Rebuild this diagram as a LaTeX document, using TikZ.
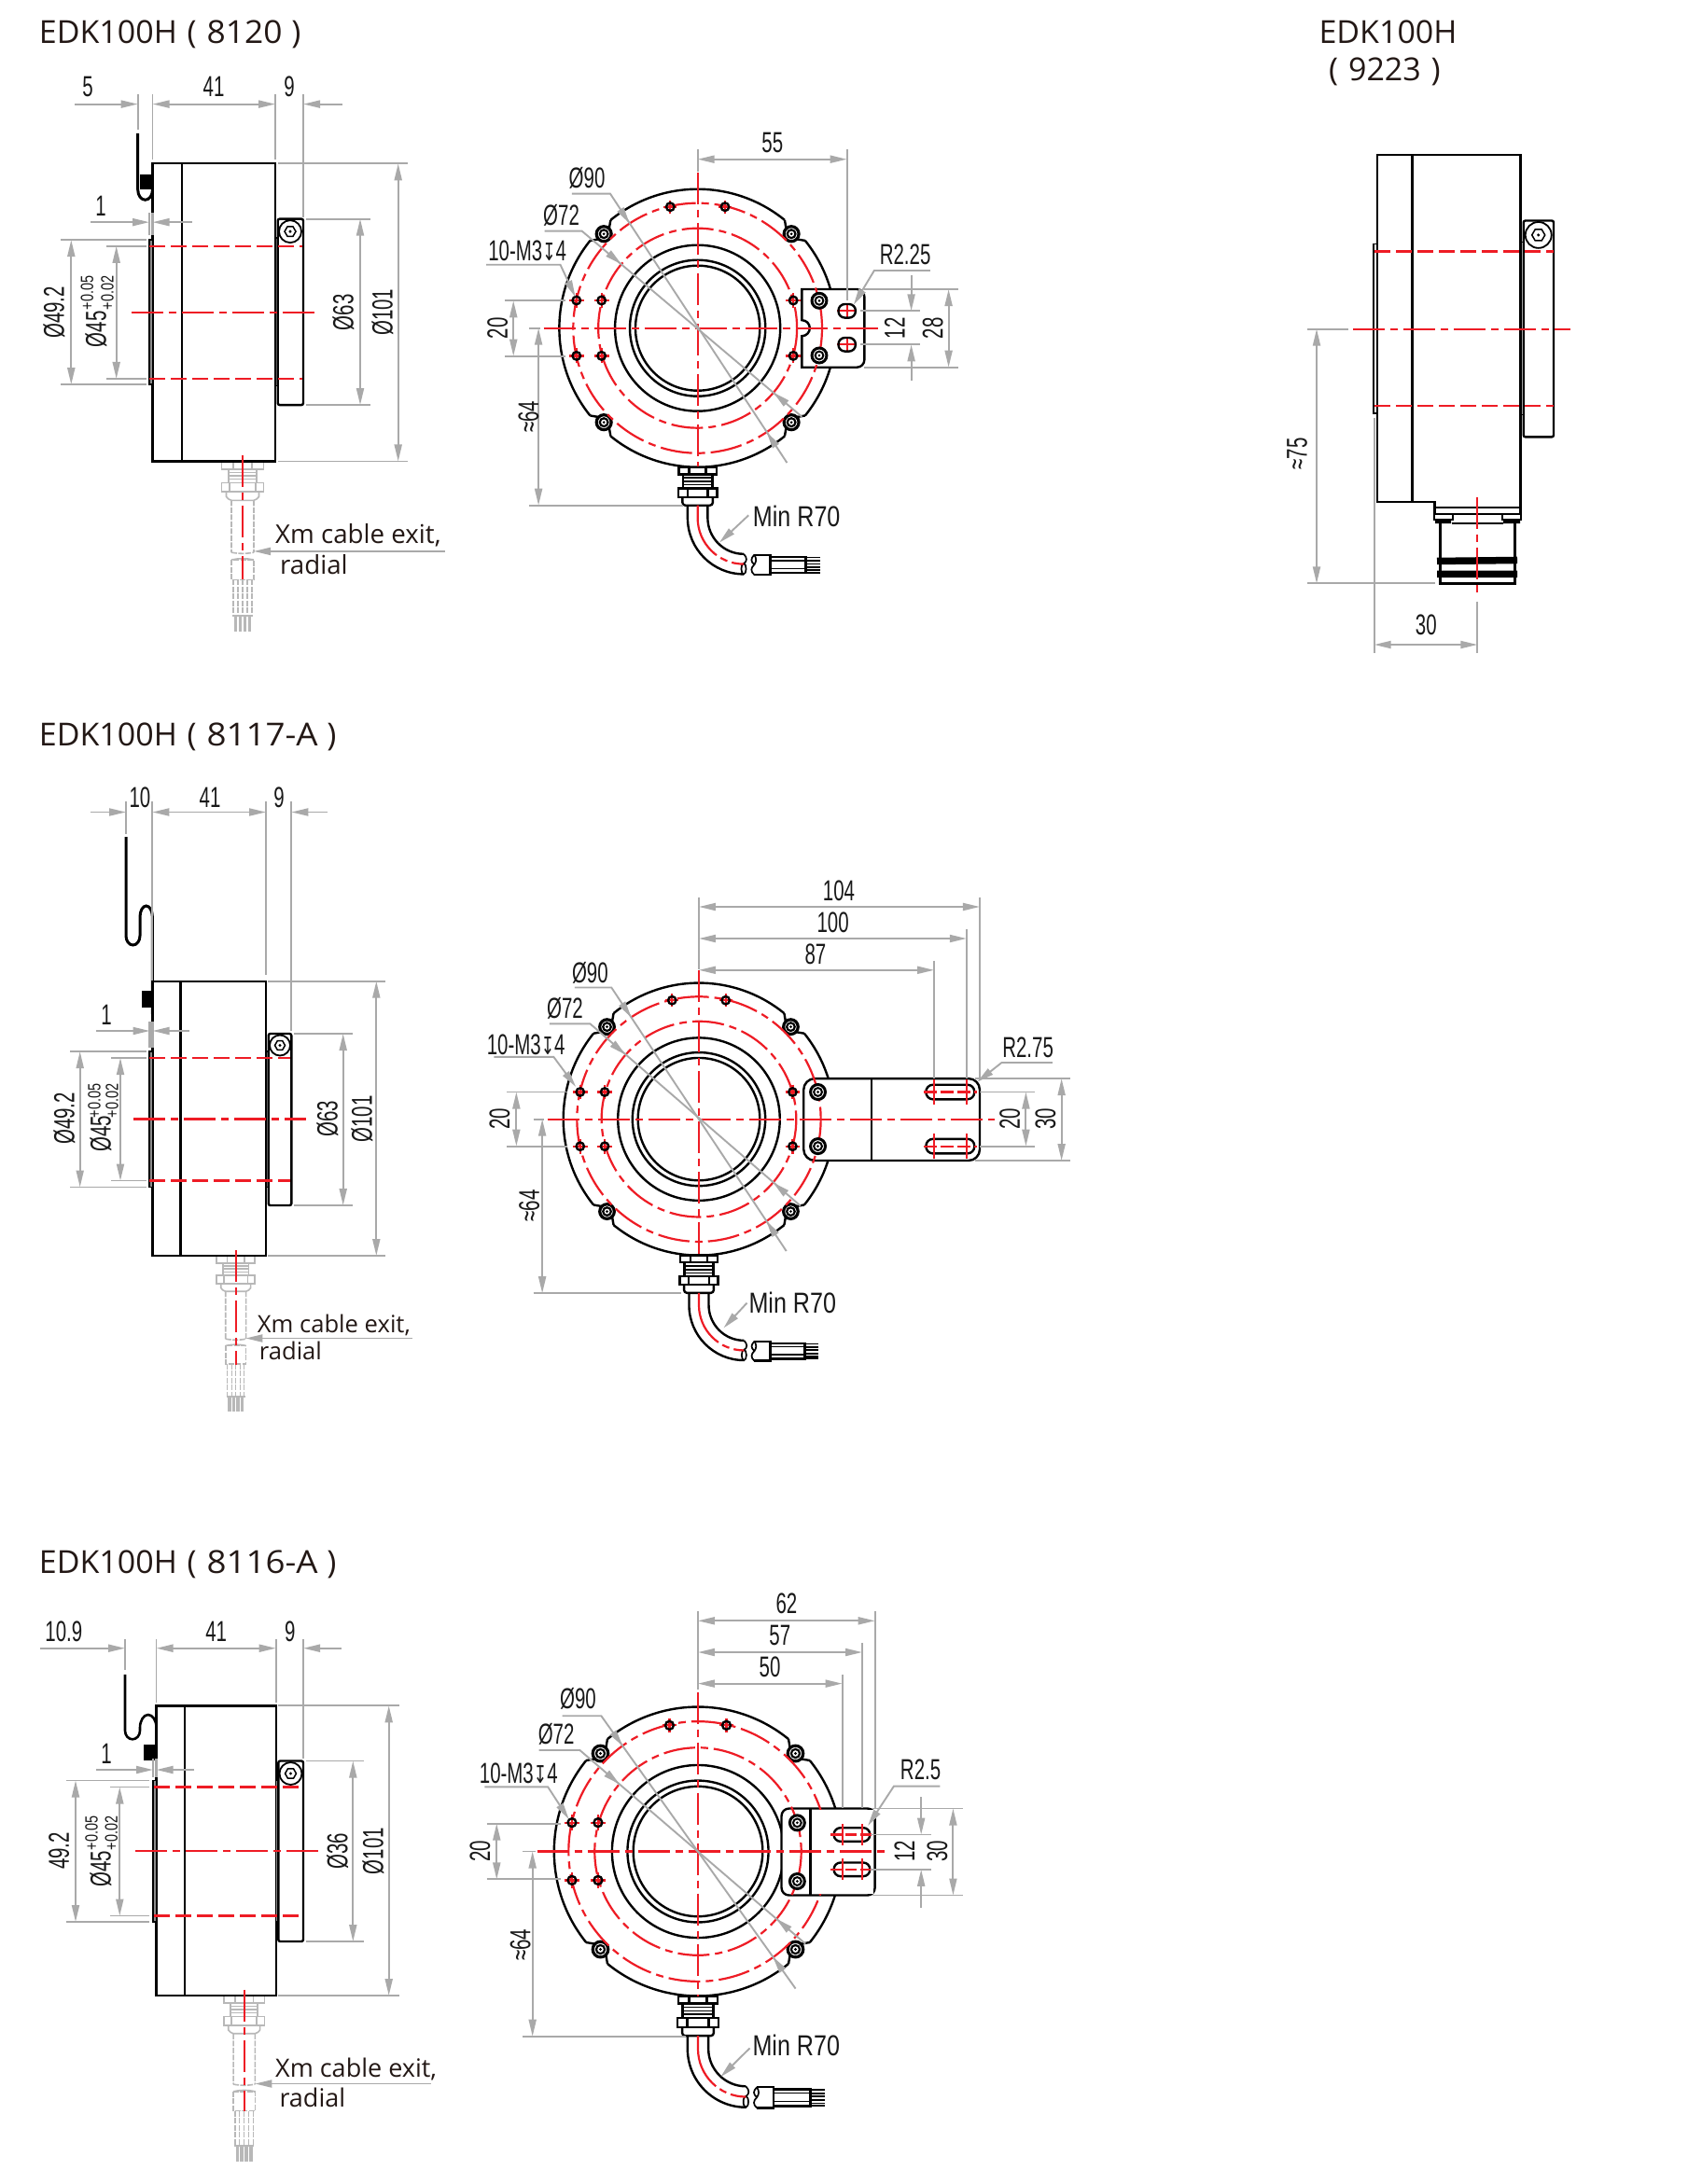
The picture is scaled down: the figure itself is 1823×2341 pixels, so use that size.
\documentclass[tikz,border=0pt]{standalone}
\usepackage{fontspec}
\usepackage{graphicx}
\usetikzlibrary{arrows.meta,calc}
\setmainfont{Liberation Sans}
\newfontfamily\ttlfont{Open Sans}
\newfontfamily\djfont{DejaVu Sans}
\definecolor{dimgray}{HTML}{A9A9A9}
\definecolor{hidgray}{HTML}{B8B8B8}
\definecolor{redline}{HTML}{EE1C25}
\definecolor{ttlcol}{HTML}{231815}
\newcount\nn
\tikzset{
 blk/.style={line width=2.4pt,black},
 thk/.style={line width=3pt,black},
 rdd/.style={line width=2.2pt,redline,dash pattern=on 17pt off 6pt},
 rdc/.style={line width=2.2pt,redline,dash pattern=on 34pt off 6pt on 8pt off 6pt},
 rds/.style={line width=2.2pt,redline},
 gy/.style={line width=1.9pt,dimgray},
 ddim/.style={gy,{Triangle[length=18pt,width=8pt]}-{Triangle[length=18pt,width=8pt]}},
 atip/.style={gy,-{Triangle[length=18pt,width=8pt]}},
 hid/.style={line width=1.6pt,hidgray},
 hdd/.style={line width=1.6pt,hidgray,dash pattern=on 6pt off 1.5pt},
 dimtxt/.style={inner sep=0pt,font=\fontsize{31}{31}\selectfont,text=black!90},
 toltxt/.style={inner sep=0pt,font=\fontsize{19}{19}\selectfont,text=black!90},
 ttl/.style={inner sep=0pt,anchor=base west,font=\ttlfont\fontsize{34}{34}\selectfont,text=ttlcol},
 cab/.style={inner sep=0pt,anchor=base west,text=ttlcol},
}
\newcommand\dth[3]{\global\advance\nn by 1 \node[dimtxt] (t\the\nn) at (#1,#2) {\scalebox{.66}[1]{#3}};}
\newcommand\dtv[3]{\global\advance\nn by 1 \node[dimtxt,rotate=90] (t\the\nn) at (#1,#2) {\scalebox{.66}[1]{#3}};}
\newcommand\tolv[3]{\global\advance\nn by 1 \node[toltxt,rotate=90] (t\the\nn) at (#1,#2) {\scalebox{.76}[1]{#3}};}
\newcommand\minr[2]{\global\advance\nn by 1 \node[dimtxt] (t\the\nn) at (#1,#2) {\scalebox{.81}[1]{Min R70}};}
\newcommand\deep[2]{\global\advance\nn by 1 \node[dimtxt] (t\the\nn) at (#1,#2) {\scalebox{.66}[1]{10-M3{\djfont\fontsize{26}{26}\selectfont ↧}4}};}
\newcommand\apx{{\fontsize{31}{31}\selectfont≈}}
\newcommand\cabtxt[5]{%
 \global\advance\nn by 1 \node[cab,font=\ttlfont\fontsize{#1}{#1}\selectfont] (t\the\nn) at (#2,#3) {Xm cable exit,};
 \global\advance\nn by 1 \node[cab,font=\ttlfont\fontsize{#1}{#1}\selectfont] (t\the\nn) at (#4,#5) {radial};}
\newcommand\lead[9]{%
 \draw[gy] (#4,#5) -- (#6,#7) -- (#8,#9);
 \coordinate (cc) at (#1,#2); \coordinate (pa) at (#6,#7); \coordinate (pb) at (#8,#9);
 \draw[atip] ($(cc)!#3pt+18pt!(pa)$) -- ($(cc)!#3pt!(pa)$);
 \draw[atip] ($(cc)!#3pt+18pt!(pb)$) -- ($(cc)!#3pt!(pb)$);}
\newcommand\sidebody[5]{\draw[blk] (#1,#4) rectangle (#3,#5); \draw[blk] (#2,#4) -- (#2,#5);}
\newcommand\flange[4]{\draw[line width=1.5pt,black,fill=black!45] (#1,#3) rectangle (#2,#4);}
\newcommand\ringside[6]{%
 \draw[blk,rounded corners=2pt,fill=white] (#1,#3) rectangle (#2,#4);
 \coordinate (sc) at (#6,{#3+#5+1.5});
 \draw[line width=1.8pt] (sc) circle[radius=#5];
 \draw[line width=1.5pt] (sc) ++(0:{#5*.5}) -- ++(120:{#5*.5}) -- ++(180:{#5*.5}) -- ++(240:{#5*.5}) -- ++(300:{#5*.5}) -- ++(0:{#5*.5}) -- cycle;
 \fill (sc) circle[radius=1.7];}
\newcommand\cableside[3]{%
\begin{scope}[shift={(#1,#2)},scale=#3]
 \draw[hid,fill=white] (-22.5,0) rectangle (22.5,8.5);
 \draw[hid] (-10,0)--(-10,8.5) (10,0)--(10,8.5);
 \draw[hid] (-15,8.5) rectangle (15,23.3);
 \draw[hid] (-15,12)--(15,12) (-15,15.5)--(15,15.5) (-15,19)--(15,19);
 \draw[hid,fill=white] (-22.5,23.3) rectangle (22.5,32.8);
 \draw[hid] (-14,23.3)--(-14,32.8) (14,23.3)--(14,32.8);
 \draw[hid] (-17.5,32.8)--(-17.5,38) to[bend right=20] (-12,42) -- (12,42) to[bend right=20] (17.5,38) -- (17.5,32.8);
 \draw[hdd] (-12,42)--(-12,98) (12,42)--(12,98) (-12,98) to[bend right=10] (12,98);
 \draw[hdd] (-12,106) rectangle (12,127.4);
 \draw[hid] (-12,106) to[bend left=12] (12,106);
 \foreach \w in {-10,-5,0,5,10} {\draw[hdd,line width=1.2pt] (\w,127.4) -- (\w,166);}
 \draw[hid] (-11,166) -- (11,166);
 \foreach \w in {-7.5,-2.5,2.5,7.5} {\draw[line width=3.8pt,hidgray] (\w,167) -- (\w,183);}
\end{scope}}
\newcommand\frontblack[3]{%
\begin{scope}[shift={(#1,#2)},scale=#3]
 \foreach \a in {45,135,225,315} {\draw[blk] (\a+6:149) arc[start angle=\a+6,end angle=\a+84,radius=149];}
 \draw[blk] (0,0) circle[radius=89]; \draw[blk] (0,0) circle[radius=73]; \draw[blk] (0,0) circle[radius=67];
 \foreach \a in {45,135,225,315} {
  \draw[blk] (\a+6:149) -- ($(\a:142.8)+(\a+90:8)$);
  \draw[blk] (\a-6:149) -- ($(\a:142.8)+(\a-90:8)$);
  \draw[line width=3.2pt,fill=white] (\a:142.8) circle[radius=8];
  \draw[line width=2.2pt] (\a:142.8) circle[radius=4.4];
  \fill (\a:142.8) circle[radius=1.5];}
 \draw[blk,fill=white] (-20.3,149) rectangle (20.3,156.6);
 \draw[blk] (-9,149)--(-9,156.6) (9,149)--(9,156.6);
 \draw[blk] (-16,156.6) rectangle (16,171.6);
 \draw[line width=1.5pt] (-16,160.5)--(16,160.5) (-16,164.5)--(16,164.5) (-16,168)--(16,168);
 \draw[blk,fill=white] (-21,171.6) rectangle (21,181);
 \draw[blk] (-11,171.6)--(-11,181) (11,171.6)--(11,181);
 \draw[blk,rounded corners=3pt] (-16.3,181)--(-16.3,190)--(16.3,190)--(16.3,181);
 \draw[blk] (-10.8,190)--(-10.8,203.3) arc[start angle=180,end angle=90,radius=60.4];
 \draw[blk] (10.8,190)--(10.8,203.3) arc[start angle=180,end angle=90,radius=38.8];
 \draw[line width=1.7pt] (49.6,242.1) .. controls (53.5,246) and (53.5,250) .. (49.6,252.5);
 \draw[line width=1.7pt] (49.6,258) ellipse[x radius=2.6,y radius=5.7];
 \draw[rds,dash pattern=on 60pt off 5pt on 8pt off 5pt on 60pt off 0pt] (0,190)--(0,203.3) arc[start angle=180,end angle=90,radius=49.6];
 \draw[blk] (61,243)--(78.3,243)--(78.3,264.3)--(61,264.3);
 \draw[line width=1.7pt] (61,243) .. controls (57,247) and (57,250) .. (61,253.5) .. controls (57,257) and (57,261) .. (61,264.3);
 \draw[line width=1.7pt] (61,243) .. controls (63.5,247) and (63.5,250) .. (61,253.5);
 \draw[blk] (78.3,245)--(116.6,245)--(116.6,262.3)--(78.3,262.3);
 \draw[line width=1.6pt] (78.3,249)--(116.6,249) (78.3,257.6)--(116.6,257.6);
 \foreach \w in {245.8,249.2,252.7,256.2,259.6,262} {\draw[line width=1.8pt] (116.6,\w)--(131.6,\w);}
\end{scope}}
\newcommand\hole[3]{%
 \draw[rds] ({#1-#3},#2)--({#1+#3},#2) (#1,{#2-#3})--(#1,{#2+#3});
 \draw[line width=2.4pt] (#1,#2) circle[radius=4.3];}
\newcommand\frontred[3]{%
\begin{scope}[shift={(#1,#2)},scale=#3]
 \draw[rdc] (0,0) circle[radius=134];
 \draw[rdc] (0,0) circle[radius=107];
 \hole{-130.5}{-29.7}{8}\hole{-103.5}{-29.7}{8}\hole{-130.5}{29.7}{8}\hole{-103.5}{29.7}{8}
 \hole{-29.5}{-130}{7}\hole{29.5}{-130}{7}
\end{scope}}
\newcommand\frontrh[3]{%
\begin{scope}[shift={(#1,#2)},scale=#3]
 \hole{103}{-29.7}{8}\hole{103}{29.7}{8}
\end{scope}}
\newcommand\pscrew[2]{\draw[line width=3pt,fill=white] (#1,#2) circle[radius=8];
 \draw[line width=2pt] (#1,#2) circle[radius=4.4]; \fill (#1,#2) circle[radius=1.5];}
\newcommand\slotv[4]{\draw[blk,rounded corners=#4pt] (#1,{#3-#4-.3}) rectangle (#2,{#3+#4+.3});}
\begin{document}
\begin{tikzpicture}[x=1pt,y=-1pt]
\useasboundingbox (0,0) rectangle (1823,2341);
\fill[white] (0,0) rectangle (1823,2341);
% ==== titles
\node[ttl] (ta) at (41.7,47) {EDK100H\hspace{2pt} (\hspace{2pt} \scalebox{1.04}[1]{8120}\hspace{1pt} )};
\node[ttl] (td) at (1413.3,47) {EDK100H};
\node[ttl] (te) at (1424,87) {(\hspace{2pt} 9223\hspace{2pt} )};
\node[ttl] (tb) at (41.7,799) {EDK100H\hspace{2pt} (\hspace{2pt} \scalebox{1.08}[1]{8117-A}\hspace{1pt} )};
\node[ttl] (tc) at (41.7,1686) {EDK100H\hspace{2pt} (\hspace{2pt} \scalebox{1.08}[1]{8116-A}\hspace{1pt} )};

% ==== A: side view 8120
\begin{scope}[yscale=.9965]
\cableside{260}{496.2}{1}
\sidebody{163.5}{195}{295}{175.9}{496.2}
\flange{160}{163.5}{258}{413.6}
\flange{295}{297.7}{255.7}{415}
\ringside{297.7}{325}{235.5}{435.6}{12}{311}
\draw[rdd] (160,264.7)--(324,264.7);
\draw[rdd] (160,407.4)--(324,407.4);
\draw[rdc] (140.7,336)--(341.7,336);
\draw[rdc] (260,490)--(260,623.6);
\draw[thk] (147.7,143.5)--(147.7,204) arc[start angle=180,end angle=0,x radius=7.9,y radius=11];
\draw[thk] (163.5,186)--(163.5,216);
\fill (150,188) rectangle (163,204);
\draw[gy] (147.7,101)--(147.7,139) (163.5,101)--(163.5,172) (295,101)--(295,172) (325,101)--(325,234);
\draw[atip] (80,112)--(147.7,112);
\draw[ddim] (163.5,112)--(295,112);
\draw[atip] (367,112)--(325,112);
\dth{94}{93}{5}\dth{229}{93}{41}\dth{310}{93}{9}
\draw[line width=2.4pt,dimgray] (160,229)--(160,253) (163.3,229)--(163.3,253);
\draw[atip] (97,239)--(160,239);
\draw[atip] (205.7,239)--(163.5,239);
\dth{108}{222}{1}
\draw[gy] (65,258)--(157,258) (65,413.6)--(157,413.6) (114,264.7)--(157,264.7) (114,407.4)--(157,407.4);
\draw[ddim] (76.3,258)--(76.3,413.6);
\draw[ddim] (124.7,264.7)--(124.7,407.4);
\dtv{58}{336}{Ø49.2}\dtv{103}{354}{Ø45}\tolv{93.3}{315}{+0.05}\tolv{115}{315}{+0.02}
\draw[gy] (328,235.5)--(397,235.5) (328,435.6)--(397,435.6) (298,175.9)--(437,175.9) (298,496.2)--(437,496.2);
\draw[ddim] (386,235.5)--(386,435.6);
\draw[ddim] (426.7,175.9)--(426.7,496.2);
\dtv{368}{336}{Ø63}\dtv{410}{336}{Ø101}
\draw[atip] (476.7,593)--(272,593);
\cabtxt{27.7}{295}{585}{300}{618}
\end{scope}

% ==== A: front view
\begin{scope}[xscale=.995,xshift=3pt]
\frontblack{748.4}{351.7}{1}
\draw[blk,fill=white] (860.7,393.7)--(860.7,360.2) arc[start angle=90,end angle=-90,radius=8.5]--(860.7,310)--(920,310) arc[start angle=-90,end angle=0,radius=8]--(928,385.7) arc[start angle=0,end angle=90,radius=8]--cycle;
\frontred{748.4}{351.7}{1}
\frontrh{748.4}{351.7}{1}
\pscrew{879.4}{322.3}\pscrew{879.4}{381}
\draw[rds] (899,333.3)--(919,333.3) (909.2,325)--(909.2,341.5) (899,369.3)--(919,369.3) (909.2,361)--(909.2,377.5);
\slotv{900}{918.5}{333.3}{7}\slotv{900}{918.5}{369.3}{7}
\draw[rdc] (582.6,351.7)--(945,351.7);
\draw[rdc] (748.4,185)--(748.4,500);
\draw[gy] (748.4,160)--(748.4,184) (909.2,160)--(909.2,321.7);
\draw[ddim] (748.4,170.7)--(909.2,170.7);
\dth{829}{153}{55}
\lead{748.4}{351.7}{134}{613}{207.7}{654.3}{207.7}{844.6}{496}
\lead{748.4}{351.7}{107}{583.6}{247.7}{623.8}{247.7}{860.7}{446.7}
\dth{629.2}{190.7}{Ø90}\dth{601.6}{230.7}{Ø72}\deep{565}{269}
\draw[atip] (520.8,283.7)--(600.5,283.7)--(616.7,318.3);
\draw[atip] (999,290)--(938.6,290)--(916.4,326.7);
\dth{972}{272.7}{R2.25}
\draw[gy] (928,310)--(1029.4,310) (928,393.7)--(1029.4,393.7) (923.6,333.3)--(988,333.3) (923.6,369.3)--(988,369.3);
\draw[atip] (978.5,295)--(978.5,333.3);
\draw[atip] (978.5,408.3)--(978.5,369.3);
\draw[ddim] (1018.7,310)--(1018.7,393.7);
\dtv{960.5}{351.7}{12}\dtv{1001.8}{351.7}{28}
\draw[gy] (540.6,322.3)--(606,322.3) (540.6,381.7)--(606,381.7) (567,351.7)--(579,351.7) (567,541.7)--(733,541.7);
\draw[ddim] (550,322.3)--(550,381.7);
\draw[ddim] (577,351.7)--(577,541.7);
\dtv{533}{351.7}{20}
\dtv{566.4}{446.7}{\apx 64}
\draw[atip] (803.3,552.3)--(771.7,581.7);
\minr{855}{553}
\end{scope}

% ==== D: side view 9223
\begin{scope}[yscale=.995]
\draw[blk] (1476,167)--(1629.3,167)--(1629.3,553.8)--(1537.3,553.8)--(1537.3,540.8)--(1476,540.8)--cycle;
\draw[blk] (1513.3,167)--(1513.3,540.8);
\draw[line width=1.6pt] (1537.3,546.8)--(1629.3,546.8);
\draw[line width=1.5pt] (1472,263) rectangle (1476,445.3);
\draw[line width=1.5pt] (1629.3,260.7) rectangle (1632.7,446.7);
\ringside{1632.7}{1665}{237.7}{470.7}{14}{1648.7}
\draw[rdd] (1473,270.9)--(1665,270.9);
\draw[rdd] (1473,437.5)--(1665,437.5);
\draw[rdc] (1450,354.4)--(1683.3,354.4);
\draw[line width=1.6pt] (1536.7,553.8) rectangle (1556.7,560) (1610,553.8) rectangle (1630,560);
\fill (1538,560) rectangle (1555,564) (1611,560) rectangle (1629,564);
\draw[blk] (1543.3,564)--(1543.3,628.5)--(1623.3,628.5)--(1623.3,564);
\draw[line width=7.5pt] (1540,604.5)--(1626,603.5) (1540,618.4)--(1626,618.4);
\draw[line width=1.6pt] (1556,564)--(1611,564);
\draw[rdc] (1583.3,535.3)--(1583.3,643.7);
\draw[gy] (1401,354.4)--(1445,354.4) (1401,628.5)--(1538,628.5) (1472.7,450)--(1472.7,703.7) (1583.3,648)--(1583.3,703.7);
\draw[ddim] (1411,354.4)--(1411,628.5);
\draw[ddim] (1472.7,694.5)--(1583.3,694.5);
\dtv{1390}{489}{\apx 75}
\dth{1528.3}{672.8}{30}
\end{scope}

% ==== B: side view 8117-A
\cableside{252.7}{1346}{.91}
\sidebody{163.3}{193.3}{285}{1051.7}{1346}
\flange{160}{163.3}{1127}{1272.5}
\flange{285}{287.7}{1127}{1272.5}
\ringside{287.7}{312.3}{1108}{1292}{11}{300}
\draw[rdd] (160,1134)--(311,1134);
\draw[rdd] (160,1265.5)--(311,1265.5);
\draw[rdc] (143,1199.5)--(328.3,1199.5);
\draw[rdc] (252.7,1340)--(252.7,1463);
\draw[thk] (135,897)--(135,1003) arc[start angle=180,end angle=0,x radius=7.5,y radius=10]--(150,983) arc[start angle=180,end angle=360,x radius=6.7,y radius=12]--(163.4,1087);
\fill (151.7,1062.3) rectangle (163,1080);
\draw[gy] (135,859)--(135,894) (163.3,859)--(163.3,1051) (285,859)--(285,1045) (312.3,859)--(312.3,1105);
\draw[atip] (96.7,870.5)--(135,870.5);
\draw[ddim] (163.3,870.5)--(285,870.5);
\draw[atip] (351,870.5)--(312.3,870.5);
\dth{150}{855}{10}\dth{225}{855}{41}\dth{299}{855}{9}
\draw[line width=2.4pt,dimgray] (160.5,1095)--(160.5,1123) (163.5,1095)--(163.5,1123);
\draw[atip] (103,1105)--(160.5,1105);
\draw[atip] (202.7,1105)--(163.5,1105);
\dth{114}{1088}{1}
\draw[gy] (75,1127)--(156.7,1127) (75,1272.5)--(156.7,1272.5) (119,1134)--(157,1134) (119,1265.5)--(157,1265.5);
\draw[ddim] (85.7,1127)--(85.7,1272.5);
\draw[ddim] (129,1134)--(129,1265.5);
\dtv{69}{1199}{Ø49.2}\dtv{108}{1215.5}{Ø45}\tolv{101}{1180}{+0.05}\tolv{120}{1180}{+0.02}
\draw[gy] (315,1108)--(378,1108) (315,1292)--(378,1292) (287.3,1051.7)--(413,1051.7) (287.3,1346)--(413,1346);
\draw[ddim] (367.7,1108)--(367.7,1292);
\draw[ddim] (403.3,1051.7)--(403.3,1346);
\dtv{351}{1199.5}{Ø63}\dtv{388}{1199.5}{Ø101}
\draw[atip] (441.7,1434.5)--(263.3,1434.5);
\cabtxt{25.6}{275.7}{1428}{277.7}{1457}

% ==== B: front view
\begin{scope}[xscale=.995,xshift=2.55pt]
\frontblack{750.2}{1199.6}{.98}
\draw[blk,fill=white,rounded corners=12pt] (863,1156.1) rectangle (1052.7,1244);
\frontred{750.2}{1199.6}{.98}
\frontrh{750.2}{1199.6}{.98}
\draw[blk] (936,1156.1)--(936,1244);
\pscrew{878.4}{1170.5}\pscrew{878.4}{1228.6}
\slotv{994.8}{1047}{1170.5}{7.5}\slotv{994.8}{1047}{1228.6}{7.5}
\draw[rds] (1003.5,1157)--(1003.5,1184) (1038.8,1157)--(1038.8,1184) (1003.5,1215)--(1003.5,1242) (1038.8,1215)--(1038.8,1242);
\draw[rdd,dash pattern=on 14pt off 4pt] (992,1170.5)--(1050,1170.5);
\draw[rdd,dash pattern=on 14pt off 4pt] (992,1228.6)--(1050,1228.6);
\draw[rdc] (587,1199.6)--(1069,1199.6);
\draw[rdc] (750.2,1040)--(750.2,1350);
\draw[gy] (750.2,961.6)--(750.2,1039) (1052.7,961.6)--(1052.7,1156) (1038.4,996.4)--(1038.4,1156) (1003.5,1029.8)--(1003.5,1156);
\draw[ddim] (750.2,972)--(1052.7,972);
\draw[ddim] (750.2,1006)--(1038.4,1006);
\draw[ddim] (750.2,1039.8)--(1003.5,1039.8);
\dth{901}{955}{104}\dth{894.5}{989}{100}\dth{875.8}{1023}{87}
\lead{750.2}{1199.6}{131}{616.4}{1058.5}{656}{1058.5}{844.4}{1341}
\lead{750.2}{1199.6}{105}{589.4}{1097.3}{633}{1097.3}{859.6}{1292.5}
\dth{633}{1042.3}{Ø90}\dth{606}{1080.8}{Ø72}\deep{564}{1120}
\draw[atip] (529.6,1132.8)--(593.7,1132.8)--(617.7,1165);
\draw[atip] (1131,1139)--(1076.3,1139)--(1050,1159.7);
\dth{1104.6}{1122.8}{R2.75}
\draw[gy] (1048,1156.1)--(1150.4,1156.1) (1048,1244)--(1150.4,1244) (1052.7,1170.5)--(1112.5,1170.5) (1052.7,1228.6)--(1112.5,1228.6);
\draw[ddim] (1102.4,1170.5)--(1102.4,1228.6);
\draw[ddim] (1140.8,1156.1)--(1140.8,1244);
\dtv{1085}{1199.6}{20}\dtv{1123.4}{1199.6}{30}
\draw[gy] (543.6,1170.5)--(609,1170.5) (543.6,1228.6)--(609,1228.6) (572,1199.6)--(583,1199.6) (572,1386.2)--(731,1386.2);
\draw[ddim] (553.6,1170.5)--(553.6,1228.6);
\draw[ddim] (581.5,1199.6)--(581.5,1386.2);
\dtv{535.7}{1199.6}{20}
\dtv{567.6}{1292.5}{\apx 64}
\draw[atip] (802,1396.6)--(776.8,1423.5);
\minr{851}{1396.6}
\end{scope}

% ==== C: side view 8116-A
\cableside{261.7}{2139}{.97}
\sidebody{167.5}{198}{295.7}{1828.3}{2139}
\flange{164}{167.5}{1908.5}{2060}
\flange{295.7}{298.3}{1908.5}{2060}
\ringside{298.3}{325}{1887.5}{2081}{12}{311.5}
\draw[rdd] (165,1915.5)--(324,1915.5);
\draw[rdd] (165,2053.5)--(324,2053.5);
\draw[rdc] (145,1984)--(341.7,1984);
\draw[rdc] (261.7,2132.5)--(261.7,2262.5);
\draw[line width=2.6pt] (134,1794.8)--(134,1855) arc[start angle=180,end angle=0,x radius=8,y radius=9.3]--(150,1852) arc[start angle=180,end angle=360,x radius=8.8,y radius=14]--(167.6,1886.7);
\fill (154.3,1869.7) rectangle (167,1886.7);
\draw[gy] (134,1756.6)--(134,1790) (167.5,1756.6)--(167.5,1825) (295.7,1756.6)--(295.7,1825) (325,1756.6)--(325,1885);
\draw[atip] (43.3,1766.7)--(134,1766.7);
\draw[ddim] (167.5,1766.7)--(295.7,1766.7);
\draw[atip] (365.7,1766.7)--(325,1766.7);
\dth{68.3}{1749}{10.9}\dth{231.7}{1749}{41}\dth{310.7}{1749}{9}
\draw[line width=2.4pt,dimgray] (164,1885)--(164,1905) (167.5,1885)--(167.5,1905);
\draw[atip] (103,1897)--(164,1897);
\draw[atip] (208,1897)--(167.5,1897);
\dth{114}{1880}{1}
\draw[gy] (70.7,1908.5)--(160,1908.5) (70.7,2060)--(160,2060) (118.3,1915.5)--(160,1915.5) (118.3,2053.5)--(160,2053.5);
\draw[ddim] (81,1908.5)--(81,2060);
\draw[ddim] (128.3,1915.5)--(128.3,2053.5);
\dtv{63.3}{1984}{49.2}\dtv{108}{2003.5}{Ø45}\tolv{98}{1965}{+0.05}\tolv{119.3}{1965}{+0.02}
\draw[gy] (328,1887.5)--(390,1887.5) (328,2081)--(390,2081) (298.3,1828.3)--(427.7,1828.3) (298.3,2139)--(427.7,2139);
\draw[ddim] (378.3,1887.5)--(378.3,2081);
\draw[ddim] (416.7,1828.3)--(416.7,2139);
\dtv{361.7}{1984}{Ø36}\dtv{400}{1984}{Ø101}
\draw[atip] (461.7,2233.5)--(273.3,2233.5);
\cabtxt{27}{295}{2226}{299.3}{2258.5}

% ==== C: front view
\begin{scope}[xscale=.995,xshift=2.55pt]
\frontblack{749.2}{1984.5}{1.04}
\draw[blk,fill=white,rounded corners=8pt] (839.2,1938.5) rectangle (939.8,2031.5);
\frontred{749.2}{1984.5}{1.04}
\fill[white] (871.5,1939.8) rectangle (938.5,2030.2);
\draw[blk] (870.5,1938.5)--(870.5,2031.5);
\pscrew{856.1}{1953.8}\pscrew{856.1}{2016.5}
\slotv{895.6}{934.4}{1966.5}{7}\slotv{895.6}{934.4}{2003.8}{7}
\draw[rds] (904.6,1955)--(904.6,1978) (926.1,1955)--(926.1,1978) (904.6,1992)--(904.6,2015) (926.1,1992)--(926.1,2015);
\draw[rdd,dash pattern=on 12pt off 4pt] (892,1966.5)--(936,1966.5);
\draw[rdd,dash pattern=on 12pt off 4pt] (892,2003.8)--(936,2003.8);
\draw[rdc] (576,1984.5)--(955.9,1984.5);
\draw[rdc] (749.2,1813.5)--(749.2,2140);
\draw[gy] (749.2,1727)--(749.2,1811) (939.8,1727)--(939.8,1938) (926.1,1760.8)--(926.1,1938) (904.6,1795)--(904.6,1938);
\draw[ddim] (749.2,1737.3)--(939.8,1737.3);
\draw[ddim] (749.2,1771)--(926.1,1771);
\draw[ddim] (749.2,1804.6)--(904.6,1804.6);
\dth{844.6}{1719}{62}\dth{837.4}{1752.7}{57}\dth{826.7}{1787.3}{50}
\lead{749.2}{1984.5}{139}{603}{1839.2}{645}{1839.2}{854.3}{2131.5}
\lead{749.2}{1984.5}{111}{578}{1876}{622}{1876}{865}{2083.5}
\dth{620}{1821}{Ø90}\dth{596.6}{1858.5}{Ø72}\deep{556}{1900.8}
\draw[atip] (519.4,1915.4)--(587.6,1915.4)--(610.2,1950);
\draw[atip] (1009.8,1914.6)--(960.2,1914.6)--(932.2,1957);
\dth{989}{1897}{R2.5}
\draw[gy] (936,1938.5)--(1034.9,1938.5) (936,2031.5)--(1034.9,2031.5) (935,1966.5)--(1000.4,1966.5) (935,2003.8)--(1000.4,2003.8);
\draw[atip] (989.6,1926)--(989.6,1966.5);
\draw[atip] (989.6,2045)--(989.6,2003.8);
\draw[ddim] (1024,1938.5)--(1024,2031.5);
\dtv{971.7}{1984.5}{12}\dtv{1006.9}{1984.5}{30}
\draw[gy] (521.6,1954.6)--(601,1954.6) (521.6,2014.4)--(601,2014.4) (560.7,1984.5)--(574,1984.5) (560.7,2182.7)--(735.9,2182.7);
\draw[ddim] (532.4,1954.6)--(532.4,2014.4);
\draw[ddim] (571,1984.5)--(571,2182.7);
\dtv{514.4}{1984.5}{20}
\dtv{558}{2084.6}{\apx 64}
\draw[atip] (805,2195.4)--(773.6,2226.2);
\minr{855}{2192}
\end{scope}
\end{tikzpicture}
\end{document}
